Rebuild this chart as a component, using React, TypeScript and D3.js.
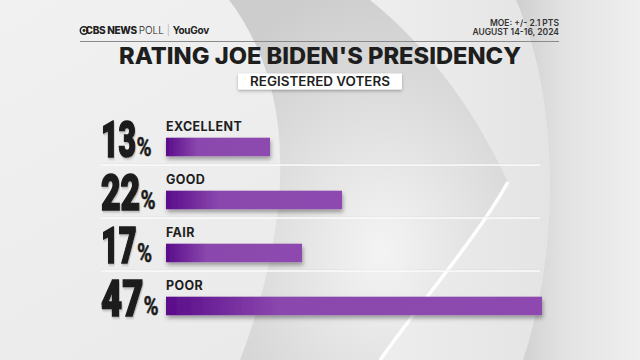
import React from "react";
import * as d3 from "d3";

const categories = ["EXCELLENT", "GOOD", "FAIR", "POOR"];
const values = [13, 22, 17, 47];
const title = "RATING JOE BIDEN'S PRESIDENCY";
const subtitle = "REGISTERED VOTERS";
const moeLines = ["MOE: +/- 2.1 PTS", "AUGUST 14-16, 2024"];

const W = 640;
const H = 360;

// approximate rendered widths of the condensed digits
const digitWidth: Record<string, number> = { "1": 15.5, "2": 19, "3": 18.5, "4": 22, "7": 19 };

export default function App() {
  const x = d3.scaleLinear().domain([0, 50]).range([166, 566]);
  const y = d3.scaleBand<string>().domain(categories).range([112, 324]).paddingInner(0);
  const step = y.step();

  const numFont = "Roboto, 'Liberation Sans', sans-serif";
  const headFont = "Inter, Lato, 'Noto Sans', sans-serif";
  const numSize = 48;
  const naturalDigit = 0.562 * numSize;

  return (
    <svg width={W} height={H} viewBox={`0 0 ${W} ${H}`} style={{ position: "absolute", left: 0, top: 0, display: "block" }}>
      <defs>
        <linearGradient id="bg" x1="0" y1="0" x2="1" y2="1">
          <stop offset="0" stopColor="#f1f1f1" />
          <stop offset="1" stopColor="#e7e7e7" />
        </linearGradient>
        <radialGradient id="inner" cx="0.55" cy="0.7" r="0.75">
          <stop offset="0" stopColor="#f4f4f4" />
          <stop offset="0.6" stopColor="#dcdcdc" />
          <stop offset="1" stopColor="#cdcdcd" />
        </radialGradient>
        <linearGradient id="outer" x1="0" y1="0" x2="1" y2="0">
          <stop offset="0" stopColor="#f6f6f6" />
          <stop offset="1" stopColor="#e4e4e4" />
        </linearGradient>
        <linearGradient id="right" x1="0" y1="0" x2="1" y2="0">
          <stop offset="0" stopColor="#cfcfcf" />
          <stop offset="0.4" stopColor="#e3e3e3" />
          <stop offset="1" stopColor="#efefef" />
        </linearGradient>
        <linearGradient id="bar" x1="0" y1="0" x2="1" y2="0">
          <stop offset="0" stopColor="#5a0c8a" />
          <stop offset="0.3" stopColor="#8a47ad" />
          <stop offset="1" stopColor="#8d4aaf" />
        </linearGradient>
        <filter id="shadow" x="-10%" y="-30%" width="120%" height="190%">
          <feDropShadow dx="1" dy="3" stdDeviation="2" floodColor="#000" floodOpacity="0.35" />
        </filter>
        <filter id="boxshadow" x="-10%" y="-30%" width="120%" height="190%">
          <feDropShadow dx="0" dy="1.5" stdDeviation="1.5" floodColor="#000" floodOpacity="0.3" />
        </filter>
        <filter id="numshadow" x="-20%" y="-20%" width="140%" height="140%">
          <feDropShadow dx="1" dy="1.5" stdDeviation="1" floodColor="#000" floodOpacity="0.25" />
        </filter>
      </defs>

      {/* background */}
      <rect x={0} y={0} width={W} height={H} fill="url(#bg)" />
      <path d="M229,0 C290,80 300,200 240,360 L523,360 C560,250 560,100 516,0 Z" fill="url(#outer)" />
      <path d="M229,0 C290,80 300,200 240,360 L380,360 C430,290 475,240 508,182 C470,100 420,40 370,0 Z" fill="url(#inner)" />
      <path d="M508,182 C475,240 430,290 380,360" fill="none" stroke="#ffffff" strokeWidth={3.5} opacity={0.95} />
      <path d="M516,0 C560,100 560,250 523,360 L640,360 L640,0 Z" fill="url(#right)" />

      {/* header */}
      <g transform="translate(80,34)">
        <circle cx={4} cy={-3.5} r={3.7} fill="none" stroke="#222" strokeWidth={1.5} />
        <circle cx={4} cy={-3.5} r={1.4} fill="#222" />
      </g>
      <text x={85.5} y={34.3} fontFamily={headFont} fontSize={10} fill="#222">
        <tspan fontWeight={800} letterSpacing={-0.3}>CBS NEWS </tspan>
        <tspan fontWeight={300}>POLL </tspan>
        <tspan fontWeight={300} fill="#aaa">| </tspan>
        <tspan fontWeight={700} letterSpacing={-0.3}>YouGov</tspan>
      </text>
      {moeLines.map((t, i) => (
        <text key={t} x={559} y={26 + i * 8.8} textAnchor="end" fontFamily={headFont} fontWeight={600} fontSize={8.5} fill="#333">
          {t}
        </text>
      ))}
      <line x1={80} x2={559} y1={41.5} y2={41.5} stroke="#8a8a8a" strokeWidth={1} />

      {/* title */}
      <text x={320} y={64} textAnchor="middle" fontFamily={headFont} fontWeight={800} fontSize={22.5} fill="#1e1e1e" textLength={402} lengthAdjust="spacingAndGlyphs">
        {title}
      </text>
      <rect x={238} y={73.5} width={164} height={16} fill="#ffffff" filter="url(#boxshadow)" />
      <text x={320} y={86} textAnchor="middle" fontFamily={headFont} fontWeight={600} fontSize={12.5} fill="#1e1e1e" textLength={140} lengthAdjust="spacingAndGlyphs">
        {subtitle}
      </text>

      {/* separators */}
      {categories.slice(0, -1).map((c) => {
        const yy = (y(c) as number) + step;
        return (
          <g key={"sep" + c}>
            <line x1={101} x2={540} y1={yy - 0.8} y2={yy - 0.8} stroke="#cfcfcf" strokeWidth={0.8} opacity={0.6} />
            <line x1={101} x2={540} y1={yy} y2={yy} stroke="#fbfbfb" strokeWidth={1.3} />
          </g>
        );
      })}

      {/* rows */}
      {categories.map((c, i) => {
        const top = y(c) as number;
        const v = values[i];
        const num = String(v);
        const numW = num.split("").reduce((s, ch) => s + (digitWidth[ch] ?? 18.5), 0);
        const sx = numW / (num.length * naturalDigit);
        return (
          <g key={c}>
            <g transform={`translate(101,${top + 44.7}) scale(${sx},1.04)`} filter="url(#numshadow)">
              <text x={0} y={0} fontFamily={numFont} fontWeight={900} fontSize={numSize} fill="#1b1b1b" stroke="#1b1b1b" strokeWidth={1.6}>
                {num}
              </text>
            </g>
            <g transform={`translate(${101 + numW + 1.5},${top + 44.2}) scale(0.82,1)`}>
              <text x={0} y={0} fontFamily={numFont} fontWeight={700} fontSize={25} fill="#1b1b1b" stroke="#1b1b1b" strokeWidth={0.5}>
                %
              </text>
            </g>
            <text x={166} y={top + 19} fontFamily={headFont} fontWeight={700} fontSize={12.5} fill="#1e1e1e" letterSpacing={0.4}>
              {c}
            </text>
            <rect x={x(0)} y={top + 25.7} width={x(v) - x(0)} height={18.5} fill="url(#bar)" filter="url(#shadow)" />
          </g>
        );
      })}
    </svg>
  );
}
